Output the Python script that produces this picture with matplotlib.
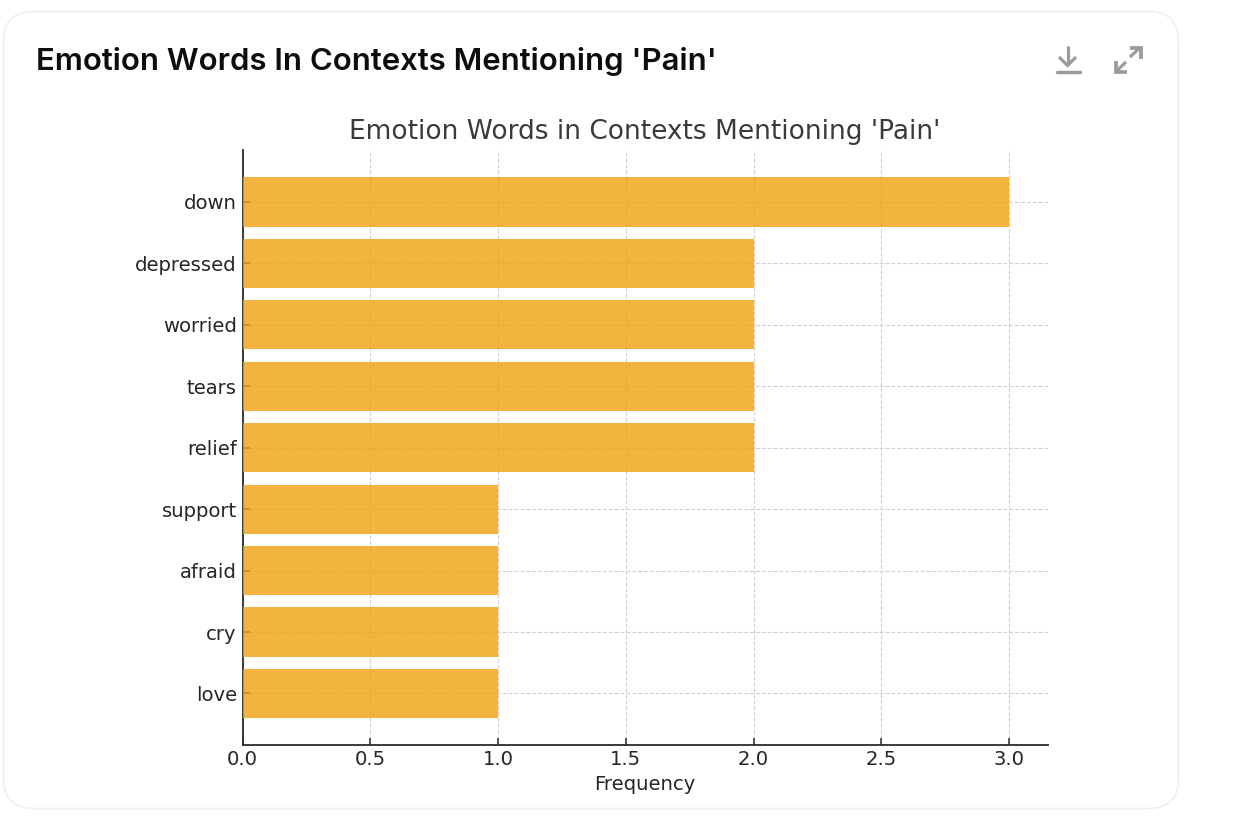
import matplotlib
matplotlib.use("Agg")
import matplotlib.pyplot as plt
from matplotlib.patches import FancyBboxPatch

plt.rcParams["font.family"] = ["DejaVu Sans"]

words = ["down", "depressed", "worried", "tears", "relief", "support", "afraid", "cry", "love"]
freqs = [3, 2, 2, 2, 2, 1, 1, 1, 1]
xticks = [0.0, 0.5, 1.0, 1.5, 2.0, 2.5, 3.0]
card_title = "Emotion Words In Contexts Mentioning 'Pain'"
chart_title = "Emotion Words in Contexts Mentioning 'Pain'"

W, H = 1257, 817
fig = plt.figure(figsize=(W / 100, H / 100), dpi=100, facecolor="white")

# page overlay in pixel coordinates
bg = fig.add_axes([0, 0, 1, 1], zorder=0)
bg.set_xlim(0, W)
bg.set_ylim(H, 0)
bg.axis("off")
bg.add_patch(FancyBboxPatch((3.5, 11.5), 1175, 797, boxstyle="round,pad=0,rounding_size=30",
                            fc="white", ec="#EFEFEF", lw=1.2))
bg.text(36, 61.5, card_title, fontsize=22.4, family="Inter", weight="semibold",
        color="#0D0D0D", va="center", ha="left")
ic = "#9B9B9B"
lw = 2.3
bg.plot([1067.5, 1067.5], [46, 65], color=ic, lw=lw, solid_capstyle="butt")
bg.plot([1059, 1067.5, 1076], [57, 65.5, 57], color=ic, lw=lw, solid_joinstyle="miter", solid_capstyle="butt")
bg.plot([1056.5, 1079.5], [72, 72], color=ic, lw=lw + 0.2, solid_capstyle="round")
bg.plot([1130, 1140], [57, 47.5], color=ic, lw=lw, solid_capstyle="butt")
bg.plot([1130, 1140.5, 1140.5], [48, 48, 59], color=ic, lw=lw + 0.4, solid_joinstyle="miter", solid_capstyle="butt")
bg.plot([1126, 1116], [62, 71.5], color=ic, lw=lw, solid_capstyle="butt")
bg.plot([1116, 1116, 1127], [61, 71.5, 71.5], color=ic, lw=lw + 0.4, solid_joinstyle="miter", solid_capstyle="butt")

L, R, T, B = 242.5, 1047.5, 150, 744.5
ax = fig.add_axes([L / W, 1 - B / H, (R - L) / W, (B - T) / H], zorder=1)
ax.patch.set_alpha(0)
ypos = list(range(len(words)))
ax.barh(ypos, freqs, height=0.8, color="#F0A00F", alpha=0.8, zorder=3)
ax.set_xlim(0, 3.15)
ax.set_ylim(8.83, -0.845)
ax.set_yticks(ypos)
ax.set_yticklabels(words)
ax.set_xticks(xticks)
ax.set_xticklabels([f"{v:.1f}" for v in xticks])
ax.grid(True, linestyle="--", color="#D2D2D2", linewidth=0.8, zorder=0)
ax.set_axisbelow(True)
for s in ("top", "right"):
    ax.spines[s].set_visible(False)
for s in ("left", "bottom"):
    ax.spines[s].set_color("#2B2B2B")
    ax.spines[s].set_linewidth(1.3)
ax.tick_params(axis="both", labelsize=14.1, labelcolor="#262626", color="#2B2B2B",
               length=5, width=1.1, direction="in", pad=4)
ax.set_xlabel("Frequency", fontsize=14.1, color="#262626", labelpad=5.5)
ax.xaxis.set_label_coords(0.4995, -0.0)
ax.xaxis.label.set_va("top")
ax.xaxis.label.set_y(0)
ax.xaxis.set_label_coords(0.4995, -30.5 / (B - T))
fig.text(644.5 / W, 1 - 132 / H, chart_title, fontsize=19.0, color="#3A3A3A", ha="center", va="center")

fig.savefig("out.png", dpi=100)
